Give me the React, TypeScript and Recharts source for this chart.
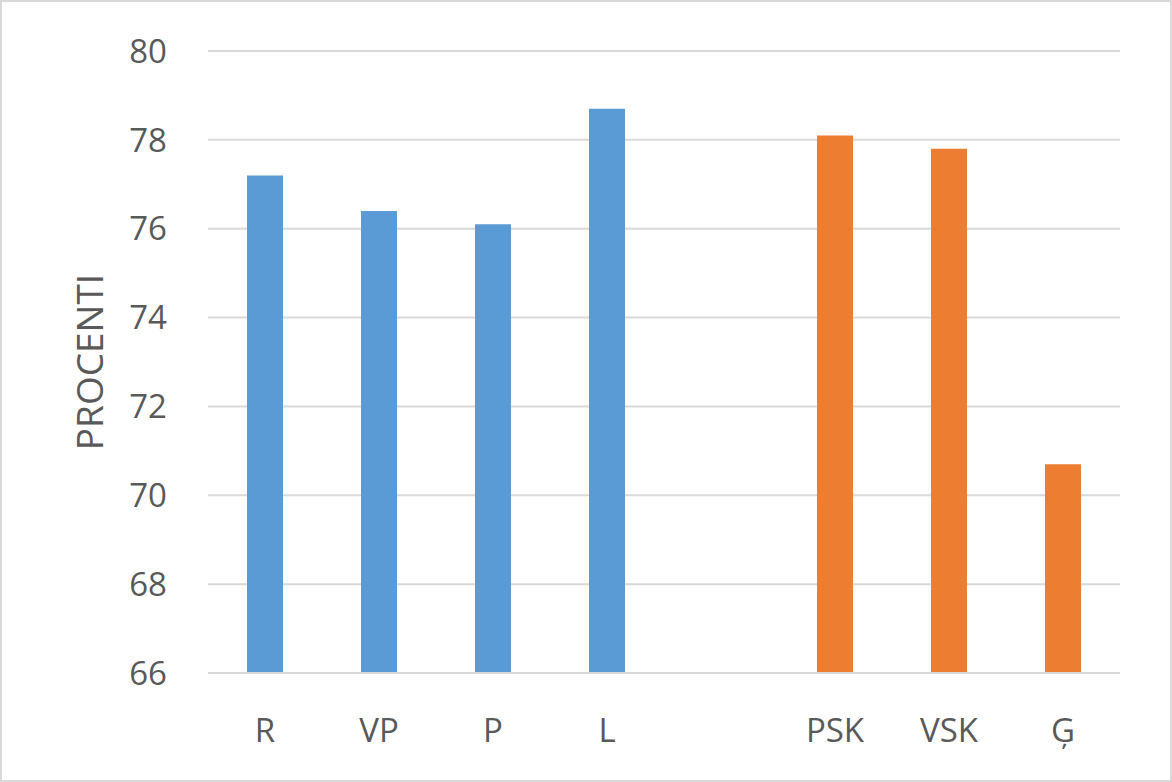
import type { JSX } from 'react'
import { BarChart, Bar, XAxis, YAxis, CartesianGrid, Cell } from 'recharts'

const categories = ['R', 'VP', 'P', 'L', '', 'PSK', 'VSK', 'Ģ']
const values: (number | null)[] = [77.2, 76.4, 76.1, 78.7, null, 78.1, 77.8, 70.7]
const groups = ['a', 'a', 'a', 'a', 'none', 'b', 'b', 'b']
const yTicks = [66, 68, 70, 72, 74, 76, 78, 80]

const groupColors: Record<string, string> = {
  a: '#5B9BD5',
  b: '#ED7D31',
  none: 'transparent',
}

const data = categories.map((name, i) => ({ name, value: values[i], group: groups[i] }))

const font = '"Open Sans", sans-serif'
const textColor = '#595959'

const AxisTitle = (): JSX.Element => (
  <text
    x={88}
    y={362}
    transform="rotate(-90 88 362)"
    textAnchor="middle"
    dominantBaseline="central"
    fill={textColor}
    fontSize={37}
    fontFamily={font}
  >
    PROCENTI
  </text>
)

export default function App(): JSX.Element {
  return (
    <div style={{ position: 'absolute', left: 0, top: 0, width: 1172, height: 782, background: '#fff' }}>
      <BarChart
        width={1172}
        height={782}
        data={data}
        margin={{ top: 51, right: 52, bottom: 0, left: 0 }}
        barSize={36}
      >
        <CartesianGrid horizontal vertical={false} stroke="#d9d9d9" strokeWidth={2} />
        <XAxis
          dataKey="name"
          height={109}
          axisLine={{ stroke: '#d9d9d9', strokeWidth: 2 }}
          tickLine={false}
          tickSize={0}
          tickMargin={46}
          interval={0}
          tick={{ fill: textColor, fontSize: 33, fontFamily: font }}
        />
        <YAxis
          width={208}
          domain={[66, 80]}
          ticks={yTicks}
          interval={0}
          axisLine={false}
          tickLine={false}
          tickSize={0}
          tickMargin={41}
          tick={{ fill: textColor, fontSize: 33, fontFamily: font }}
          label={{ content: () => <AxisTitle /> }}
        />
        <Bar dataKey="value" isAnimationActive={false}>
          {data.map((d, i) => (
            <Cell key={i} fill={groupColors[d.group]} />
          ))}
        </Bar>
      </BarChart>
      <div
        style={{
          position: 'absolute',
          inset: 0,
          border: '2px solid #d9d9d9',
          pointerEvents: 'none',
        }}
      />
    </div>
  )
}
